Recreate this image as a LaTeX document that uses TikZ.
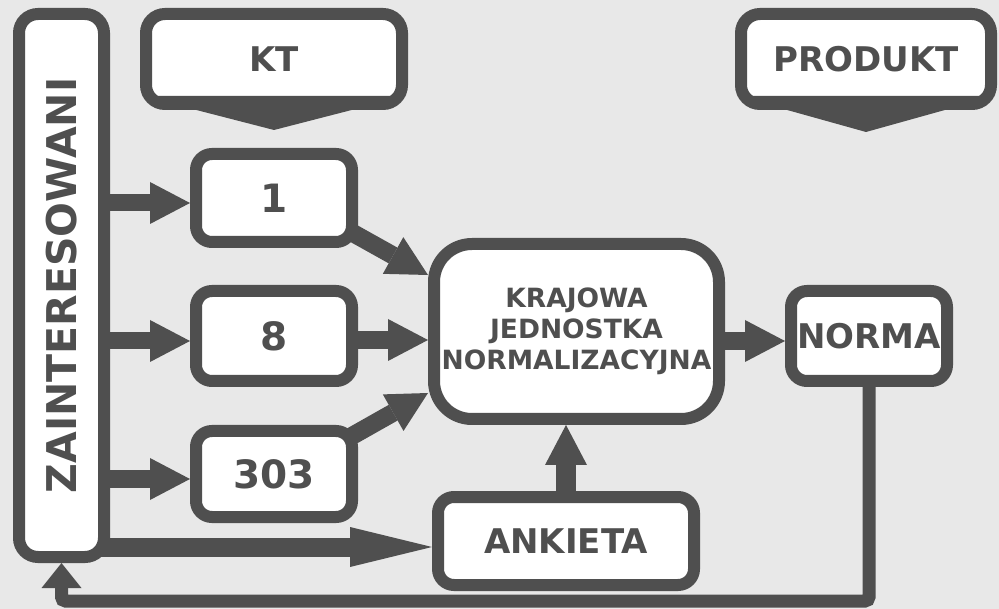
\documentclass[tikz,border=0pt]{standalone}
\usepackage{fontspec}
\setmainfont{DejaVu Sans}
\usetikzlibrary{arrows.meta,calc}
\definecolor{ink}{HTML}{4F4F4F}
\definecolor{paper}{HTML}{E8E8E8}
\pgfdeclarelayer{paperlayer}
\pgfdeclarelayer{bg}
\pgfsetlayers{paperlayer,bg,main}
\begin{document}
\begin{tikzpicture}[x=1pt,y=-1pt,
  box/.style={draw=ink, line width=12pt, fill=white, rounded corners=16pt,
    inner sep=0pt, text=ink, font=\bfseries\fontsize{34}{40}\selectfont},
  flow/.style={draw=ink, line width=18pt, line cap=butt,
    -{Triangle[length=40pt,width=42pt,line width=0pt]}},
  longflow/.style={flow, line width=19pt,
    -{Triangle[length=82pt,width=40pt,line width=0pt]}},
  back/.style={draw=ink, line width=13pt, rounded corners=4pt,
    -{Triangle[length=25pt,width=40pt,line width=0pt]}},
  banner/.style={fill=ink}
]
\begin{pgfonlayer}{paperlayer}
  \fill[paper] (0,0) rectangle (999,609);
\end{pgfonlayer}
\useasboundingbox (0,0) rectangle (999,609);

% participants column
\node[box, rounded corners=19pt, minimum width=85pt, minimum height=543pt,
  font=\bfseries\fontsize{41}{45}\selectfont] (Z) at (61.5,285.5)
  {\rotatebox{90}{ZAINTERESOWANI}};

% headers with a downward pointer
\node[box, rounded corners=19pt, minimum width=256pt, minimum height=90pt] (KT) at (274,59) {KT};
\node[box, rounded corners=19pt, minimum width=250pt, minimum height=90pt] (PR) at (866,59) {PRODUKT};
\fill[banner] ($(KT.south west)+(2,-14)$) -- ($(KT.south)+(0,20)$) -- ($(KT.south east)+(-2,-14)$) -- cycle;
\fill[banner] ($(PR.south west)+(2,-14)$) -- ($(PR.south)+(0,22)$) -- ($(PR.south east)+(-2,-14)$) -- cycle;

% technical committees
\node[box, minimum width=156pt, minimum height=88pt, font=\bfseries\fontsize{39}{44}\selectfont] (b1) at (274,198) {1};
\node[box, minimum width=156pt, minimum height=90pt, font=\bfseries\fontsize{39}{44}\selectfont] (b8) at (274,336) {8};
\node[box, minimum width=156pt, minimum height=86pt, font=\bfseries\fontsize{39}{44}\selectfont] (b3) at (274,474) {303};

% national standards body, standard, survey
\node[box, rounded corners=38pt, minimum width=285pt, minimum height=175pt, align=center,
  font=\bfseries\fontsize{26.5}{31}\selectfont] (K) at (576.5,331.5)
  {KRAJOWA\\JEDNOSTKA\\NORMALIZACYJNA};
\node[box, minimum width=156pt, minimum height=90pt] (N) at (869,336) {NORMA};
\node[box, minimum width=256pt, minimum height=88pt] (A) at (566,541) {ANKIETA};

\coordinate (a1) at ($(b1.west)+(0,5)$);
\coordinate (a8) at ($(b8.west)+(0,5)$);
\coordinate (a3) at ($(b3.west)+(0,5)$);
\coordinate (aA) at ($(A.west)+(0,6)$);
\coordinate (k8) at ($(b8.east)+(0,4)$);
\coordinate (kN) at ($(N.west)+(0,5)$);

\begin{pgfonlayer}{bg}
  \draw[flow, line width=17pt] (Z.center |- a1) -- (a1);
  \draw[flow, line width=17pt] (Z.center |- a8) -- (a8);
  \draw[flow, line width=17pt] (Z.center |- a3) -- (a3);
  \draw[longflow] (Z.center |- aA) -- (aA);

  \draw[flow] ($(b1.center)+(0,-9)$) -- ($(K.west)+(0,-56.5)$);
  \draw[flow] (b8.center |- k8) -- (k8 -| K.west);
  \draw[flow] ($(b3.center)+(0,6)$) -- ($(K.west)+(0,61.5)$);

  \draw[flow] (K.center |- kN) -- (kN);
  \draw[flow, line width=20pt] (A.center) -- (A.center |- K.south);

  \draw[back] (N.center) -- (N.center |- 0,601) -| (Z.south);
\end{pgfonlayer}
\end{tikzpicture}
\end{document}
